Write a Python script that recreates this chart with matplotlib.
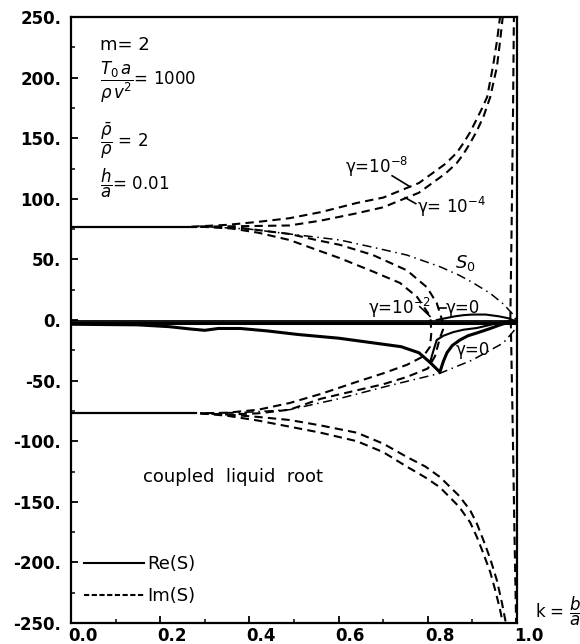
import matplotlib
matplotlib.use('Agg')
import matplotlib.pyplot as plt
from matplotlib.lines import Line2D
from matplotlib.transforms import ScaledTranslation

plt.rcParams['font.family'] = ['DejaVu Sans']
plt.rcParams['mathtext.fontset'] = 'dejavusans'

# ---- data ----
# Im(S), flat part before the branches split
k_flat = [0.0, 0.28]
im_flat_up = [77, 77]
im_flat_dn = [-77, -77]

# Im(S) going up to +250 (gamma = 1e-8 and 1e-4)
k_g8_up = [0.27, 0.35, 0.42, 0.49, 0.56, 0.64, 0.70, 0.74, 0.78, 0.81, 0.84, 0.865, 0.88, 0.895, 0.91, 0.922, 0.933, 0.946, 0.955, 0.962]
im_g8_up = [77, 78.5, 81, 84, 89, 96.5, 101, 107, 113, 121, 129, 138, 146, 155, 166, 175, 184, 209, 230, 250]
k_g4_up = [0.29, 0.40, 0.49, 0.56, 0.64, 0.70, 0.74, 0.78, 0.81, 0.84, 0.865, 0.88, 0.895, 0.91, 0.925, 0.94, 0.955, 0.962, 0.968]
im_g4_up = [77, 77.5, 78, 82, 88, 93, 99, 105, 113, 121, 129.5, 137, 146, 156, 168, 184, 209, 230, 250]

# Im(S) going down to -250
k_g8_dn = [0.29, 0.35, 0.42, 0.49, 0.56, 0.641, 0.70, 0.753, 0.795, 0.827, 0.87, 0.895, 0.91, 0.925, 0.94, 0.952, 0.962, 0.968]
im_g8_dn = [-77, -79, -83, -88, -93, -100, -109, -121, -130, -138, -154, -167, -179, -193, -208, -224, -239, -250]
k_g4_dn = [0.29, 0.35, 0.42, 0.49, 0.56, 0.641, 0.70, 0.753, 0.795, 0.827, 0.87, 0.895, 0.91, 0.925, 0.94, 0.955, 0.966, 0.975]
im_g4_dn = [-77, -78, -80, -82.5, -87, -93, -102, -113, -121, -129.5, -145, -157, -168, -182, -197, -215, -233, -250]

# Im(S) closing through zero (gamma = 1e-2 and gamma = 0)
k_g2_loop = [0.29, 0.36, 0.42, 0.49, 0.55, 0.603, 0.677, 0.738, 0.776, 0.80, 0.806,
             0.808, 0.805, 0.79, 0.753, 0.70, 0.641, 0.56, 0.49, 0.42, 0.35, 0.29]
im_g2_loop = [77, 75.5, 72, 66, 58, 51, 40, 30.5, 19, 6, 0,
              -10, -22, -30, -37, -44, -51, -61, -68.5, -74, -76.5, -77]
k_g0_loop = [0.29, 0.38, 0.49, 0.55, 0.603, 0.677, 0.753, 0.798, 0.82, 0.832,
             0.834, 0.827, 0.816, 0.80, 0.753, 0.70, 0.641, 0.56, 0.49, 0.42, 0.35, 0.29]
im_g0_loop = [77, 76, 71, 66, 62, 53.6, 41, 27, 14, 0,
              -8, -15, -30, -40, -47, -53, -58, -65, -74, -77, -78, -77]

# Im(S) branch hugging k = 1
k_edge_up = [0.985, 0.988, 0.991, 0.993]
im_edge_up = [0, 80, 170, 250]
k_edge_dn = [0.986, 0.990, 0.994, 0.998]
im_edge_dn = [0, -80, -170, -250]

# S0 (dash-dot)
k_s0_up = [0.30, 0.40, 0.49, 0.603, 0.677, 0.753, 0.827, 0.87, 0.90, 0.94, 0.97, 0.99, 0.998]
s0_up = [77, 75, 71, 66, 60, 53.6, 44, 37, 31, 22, 13, 5, 0]
k_s0_dn = [0.30, 0.40, 0.49, 0.60, 0.715, 0.827, 0.90, 0.969, 1.0]
s0_dn = [-77, -76, -74, -65, -54, -44, -33, -19, -6]

# Re(S) (solid)
k_re_flat = [0.0, 1.0]
re_flat_a = [-0.5, -0.5]
re_flat_b = [-2.5, -2.5]
k_re_main = [0.0, 0.15, 0.22, 0.27, 0.30, 0.33, 0.38, 0.44, 0.51, 0.60, 0.68, 0.74, 0.78, 0.805, 0.827,
             0.835, 0.843, 0.855, 0.872, 0.89, 0.91, 0.94, 0.962, 0.98, 0.995]
re_main = [-3.5, -4, -5.5, -7.5, -8.5, -7, -7, -9, -12, -15, -19, -22, -27, -35, -43,
           -34, -27, -21, -16.5, -13, -10.7, -7, -4, -2, -1]
k_re_g2 = [0.805, 0.812, 0.82, 0.835, 0.857, 0.88, 0.91, 0.94, 0.962, 0.985, 1.0]
re_g2 = [-35, -26, -16.5, -13, -10, -8, -6.6, -4, -2, -1, 0]
k_re_g0_up = [0.82, 0.84, 0.86, 0.88, 0.90, 0.93, 0.96, 0.98, 0.99]
re_g0_up = [0, 1.5, 3, 4, 4.5, 4.5, 3, 1.5, 0]

# axes ticks
xticks = [0.0, 0.2, 0.4, 0.6, 0.8, 1.0]
xtick_labels = ['0.0', '0.2', '0.4', '0.6', '0.8', '1.0']
yticks = [250, 200, 150, 100, 50, 0, -50, -100, -150, -200, -250]
ytick_labels = ['250.', '200.', '150.', '100.', '50.', '0.', '-50.', '-100.', '-150.', '-200.', '-250.']

# ---- plot ----
fig = plt.figure(figsize=(5.8, 6.44), dpi=100)
ax = fig.add_axes([0.1224, 0.0326, 0.769, 0.941])

dash = (0, (4, 2.5))
dashdot = (0, (6, 3, 1, 3))
kw_im = dict(color='black', lw=1.5, linestyle=dash)

ax.plot(k_flat, im_flat_up, color='black', lw=1.6)
ax.plot(k_flat, im_flat_dn, color='black', lw=1.6)
ax.plot(k_g8_up, im_g8_up, **kw_im)
ax.plot(k_g4_up, im_g4_up, **kw_im)
ax.plot(k_g8_dn, im_g8_dn, **kw_im)
ax.plot(k_g4_dn, im_g4_dn, **kw_im)
ax.plot(k_g2_loop, im_g2_loop, **kw_im)
ax.plot(k_g0_loop, im_g0_loop, **kw_im)
ax.plot(k_edge_up, im_edge_up, **kw_im)
ax.plot(k_edge_dn, im_edge_dn, **kw_im)

ax.plot(k_s0_up, s0_up, color='black', lw=1.1, linestyle=dashdot)
ax.plot(k_s0_dn, s0_dn, color='black', lw=1.1, linestyle=dashdot)

ax.plot(k_re_flat, re_flat_a, color='black', lw=1.3)
ax.plot(k_re_flat, re_flat_b, color='black', lw=2.2)
ax.plot(k_re_main, re_main, color='black', lw=2.2)
ax.plot(k_re_g2, re_g2, color='black', lw=1.5)
ax.plot(k_re_g0_up, re_g0_up, color='black', lw=1.5)

ax.set_xlim(0, 1)
ax.set_ylim(-250, 250)
ax.set_xticks(xticks)
ax.set_xticklabels(xtick_labels)
ax.set_yticks(yticks)
ax.set_yticklabels(ytick_labels)
ax.set_xticks([0.1, 0.3, 0.5, 0.7, 0.9], minor=True)
ax.set_yticks([225, 175, 125, 75, 25, -25, -75, -125, -175, -225], minor=True)
ax.tick_params(which='major', direction='in', length=5, width=1.3, labelsize=12)
ax.tick_params(which='minor', direction='in', length=3, width=1.1)
ax.tick_params(axis='y', pad=7)
ax.tick_params(axis='x', pad=3)
for lbl in ax.get_xticklabels():
    lbl.set_fontweight('bold')
    lbl.set_horizontalalignment('left')
    lbl.set_transform(lbl.get_transform() + ScaledTranslation(-3 / 100, 0, fig.dpi_scale_trans))
for lbl in ax.get_yticklabels():
    lbl.set_fontweight('bold')
for sp in ax.spines.values():
    sp.set_linewidth(1.6)

# parameter block
ax.text(0.065, 227, 'm= 2', fontsize=13, va='center')
ax.text(0.065, 196, r'$\dfrac{T_0\,a}{\rho\,v^2}$= 1000', fontsize=12, va='center')
ax.text(0.065, 148, r'$\dfrac{\bar{\rho}}{\rho}$ = 2', fontsize=12, va='center')
ax.text(0.065, 113, r'$\dfrac{h}{a}$= 0.01', fontsize=12, va='center')

# curve labels
ax.text(0.615, 126, 'γ=10$^{-8}$', fontsize=12, va='center')
ax.plot([0.72, 0.76], [119, 110], color='black', lw=1.2)
ax.text(0.775, 93, 'γ= 10$^{-4}$', fontsize=12, va='center')
ax.plot([0.749, 0.773], [101, 96], color='black', lw=1.2)
ax.text(0.86, 47, r'$S_0$', fontsize=13, va='center')
ax.text(0.665, 10, 'γ=10$^{-2}$', fontsize=12, va='center')
ax.plot([0.782, 0.805], [11, 3], color='black', lw=1.2)
ax.text(0.84, 10, 'γ=0', fontsize=12, va='center')
ax.plot([0.826, 0.84], [10, 10], color='black', lw=1.2)
ax.text(0.862, -25, 'γ=0', fontsize=12, va='center')

ax.text(0.161, -129.5, 'coupled  liquid  root', fontsize=13, va='center')

# legend
handles = [Line2D([], [], color='black', lw=1.5),
           Line2D([], [], color='black', lw=1.5, linestyle=(0, (2.5, 1.2)))]
ax.legend(handles, ['Re(S)', 'Im(S)'], loc='lower left', bbox_to_anchor=(0.03, 0.03),
          frameon=False, fontsize=13, handlelength=3.3, handletextpad=0.2,
          labelspacing=0.75, borderpad=0, borderaxespad=0)

fig.text(0.922, 0.05, r'k = $\dfrac{b}{a}$', fontsize=12, va='center')

fig.savefig('out.png', dpi=100)
